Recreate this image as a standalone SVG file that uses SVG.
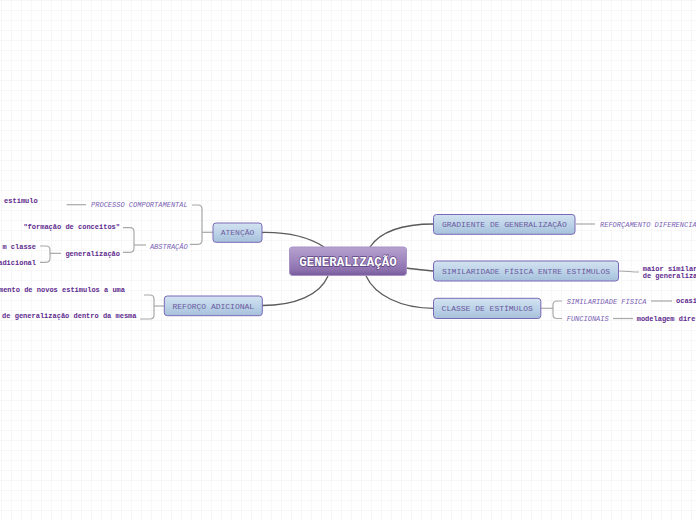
<svg xmlns="http://www.w3.org/2000/svg" width="696" height="520" viewBox="0 0 696 520">
<defs>
<pattern id="grid" x="1" y="0" width="10" height="10" patternUnits="userSpaceOnUse">
<path d="M0,0 V10 M0,0 H10" fill="none" stroke="#efefef" stroke-width="1"/>
</pattern>
<linearGradient id="gBlue" x1="0" y1="0" x2="0" y2="1">
<stop offset="0" stop-color="#d3e3f1"/>
<stop offset="0.5" stop-color="#bdd3e8"/>
<stop offset="1" stop-color="#a6c1db"/>
</linearGradient>
<linearGradient id="gPurple" x1="0" y1="0" x2="0" y2="1">
<stop offset="0" stop-color="#b5a2cf"/>
<stop offset="0.5" stop-color="#9e85bd"/>
<stop offset="0.82" stop-color="#8c70ad"/>
<stop offset="1" stop-color="#775a99"/>
</linearGradient>
</defs>
<style>
.node rect{fill:url(#gBlue);stroke:#7a68b6;stroke-width:1}
.nt{font-family:"Liberation Mono",monospace;font-size:8px;fill:#6a5a9e}
.ct{font-family:"Liberation Mono",monospace;font-size:12.5px;font-weight:bold;fill:#ffffff;stroke:#5e4484;stroke-width:1.3px;paint-order:stroke}
.lab{font-family:"Liberation Mono",monospace;font-size:7px;font-style:italic;fill:#7a62b4}
.leaf{font-family:"Liberation Mono",monospace;font-size:7px;font-weight:bold;fill:#5e2a8e}
.main{fill:none;stroke:#5a5a5a;stroke-width:1.3}
.br{fill:none;stroke:#a8a8a8;stroke-width:1.2}
</style>
<rect width="696" height="520" fill="#ffffff"/>
<rect width="696" height="520" fill="url(#grid)"/>

<g id="connectors">
<path class="main" d="M262,232.5 C290,232 310,238 324,247"/>
<path class="main" d="M328,276 C320,295 295,305.5 262,305.5"/>
<path class="main" d="M370,247 C380,232 400,224 434,224"/>
<path class="main" d="M406,268 C415,269 425,270.5 434,271"/>
<path class="main" d="M366,276 C375,295 400,308.3 434,308.3"/>
<path class="br" d="M192,205 H198 Q202,205 202,209 V240.3 Q202,244.3 198,244.3 H190"/>
<path class="br" d="M202,232.3 H213"/>
<path class="br" d="M66.7,204.7 H86"/>
<path class="br" d="M123,227.7 H130 Q134,227.7 134,231.7 V248.3 Q134,252.3 130,252.3 H123"/>
<path class="br" d="M134,245 H146"/>
<path class="br" d="M40,246 H46 Q50,246 50,250 V258.3 Q50,262.3 46,262.3 H40"/>
<path class="br" d="M50,253.3 H61"/>
<path class="br" d="M144,295 H150 Q154,295 154,299 V315 Q154,319 150,319 H140"/>
<path class="br" d="M154,306 H164"/>
<path class="br" d="M576,224 H595"/>
<path class="br" d="M619,271 C626,271 632,272 639,272"/>
<path class="br" d="M541,308.3 H553"/>
<path class="br" d="M562,301 H557 Q553,301 553,305 V314.5 Q553,318.5 557,318.5 H562"/>
<path class="br" d="M651,301 H672"/>
<path class="br" d="M613,318.5 H633"/>
</g>

<g id="center">
<rect x="289.5" y="247" width="117" height="28.5" rx="3" fill="url(#gPurple)" stroke="#a892c6" stroke-width="1"/>
<text class="ct" x="348" y="265.5" text-anchor="middle">GENERALIZAÇÃO</text>
</g>

<g id="atencao" class="node">
<rect x="213" y="223" width="49" height="19.3" rx="3"/>
<text class="nt" x="237.5" y="235.3" text-anchor="middle">ATENÇÃO</text>
</g>
<g id="processo">
<text class="lab" x="187.7" y="207.3" text-anchor="end">PROCESSO COMPORTAMENTAL</text>
<text class="leaf" x="37.7" y="203.3" text-anchor="end">estímulo</text>
</g>
<g id="abstracao">
<text class="lab" x="187.7" y="248.8" text-anchor="end">ABSTRAÇÃO</text>
<text class="leaf" x="120" y="228.5" text-anchor="end">"formação de conceitos"</text>
</g>
<g id="generalizacao-sub">
<text class="leaf" x="120" y="255.8" text-anchor="end">generalização</text>
<text class="leaf" x="36" y="248.8" text-anchor="end">m classe</text>
<text class="leaf" x="36" y="264.8" text-anchor="end">adicional</text>
</g>

<g id="reforco" class="node">
<rect x="164.3" y="296" width="98" height="19.7" rx="3"/>
<text class="nt" x="213.3" y="308.5" text-anchor="middle">REFORÇO ADICIONAL</text>
</g>
<g id="reforco-sub">
<text class="leaf" x="125" y="291.8" text-anchor="end">mento de novos estímulos a uma</text>
<text class="leaf" x="136.5" y="317.8" text-anchor="end">de generalização dentro da mesma</text>
</g>

<g id="gradiente" class="node">
<rect x="433.5" y="214.5" width="141.5" height="19.8" rx="3"/>
<text class="nt" x="504.3" y="227" text-anchor="middle">GRADIENTE DE GENERALIZAÇÃO</text>
</g>
<g id="reforcamento">
<text class="lab" x="600" y="226.5">REFORÇAMENTO DIFERENCIAL</text>
</g>

<g id="similaridade" class="node">
<rect x="433.5" y="261" width="185" height="20" rx="3"/>
<text class="nt" x="526" y="273.6" text-anchor="middle">SIMILARIDADE FÍSICA ENTRE ESTÍMULOS</text>
</g>
<g id="similaridade-sub">
<text class="leaf" x="642.7" y="270.5">maior similaridade</text>
<text class="leaf" x="642.7" y="277.8">de generalização</text>
</g>

<g id="classe" class="node">
<rect x="433.5" y="298.3" width="107.3" height="20.2" rx="3"/>
<text class="nt" x="487.2" y="311" text-anchor="middle">CLASSE DE ESTÍMULOS</text>
</g>
<g id="sim-fisica">
<text class="lab" x="566.7" y="303.5">SIMILARIDADE FÍSICA</text>
<text class="leaf" x="676" y="303.2">ocasião</text>
</g>
<g id="funcionais">
<text class="lab" x="566.7" y="320.5">FUNCIONAIS</text>
<text class="leaf" x="636.7" y="320.5">modelagem direta</text>
</g>
</svg>
